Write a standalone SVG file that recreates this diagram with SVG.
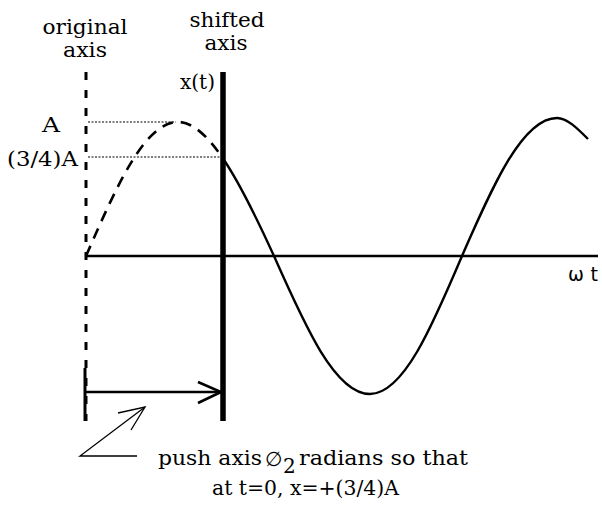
<svg xmlns="http://www.w3.org/2000/svg" width="602" height="518" viewBox="0 0 602 518">
<style>
  .t { font-family: "DejaVu Serif", "Liberation Serif", serif; font-size: 20px; fill: #000; }
  .s { font-family: "DejaVu Sans", "Liberation Sans", sans-serif; font-size: 19px; fill: #000; }
  .ln { stroke: #000; fill: none; stroke-linecap: butt; }
</style>
<rect width="602" height="518" fill="#fff"/>
<g id="axes">
  <line id="original-axis" class="ln" x1="86" y1="72" x2="86" y2="421" stroke-width="3" stroke-dasharray="8 10"/>
  <line id="shifted-axis" class="ln" x1="223" y1="72" x2="223" y2="421" stroke-width="5.5"/>
  <line id="time-axis" class="ln" x1="86" y1="256" x2="598" y2="256" stroke-width="2.6"/>
  <line class="ln" x1="88" y1="122" x2="176" y2="122" stroke-width="1.2" stroke-dasharray="2 1.5"/>
  <line class="ln" x1="88" y1="157" x2="222" y2="157" stroke-width="1.2" stroke-dasharray="2 1.5"/>
</g>
<g id="curve">
  <path class="ln" stroke-width="2.6" stroke-dasharray="11 8" d="M86,256 C116,187.4 144.7,122 178,122 C192.7,122 207.3,135.9 222,157"/>
  <path class="ln" stroke-width="2.4" stroke-linejoin="round" d="M222,157 C239.3,181.9 256.7,218.1 274,256 C305.3,326.7 335.3,394 370,394 C403.3,394 432,326.7 462,256 C493,185.3 522.6,118 557,118 C567,118 577,128 588,139"/>
</g>
<g id="connectors">
  <line class="ln" x1="85" y1="368" x2="85" y2="421" stroke-width="3"/>
  <line class="ln" x1="86" y1="392" x2="221" y2="392" stroke-width="2.6"/>
  <polyline class="ln" points="198,382 221,392 198,403" stroke-width="2.6"/>
  <polyline class="ln" points="137,456 80,456 145,407" stroke-width="1.3"/>
  <polyline class="ln" points="118,413 145,407 131,430" stroke-width="1.3"/>
</g>
<g id="labels">
  <text class="t" x="85" y="34" text-anchor="middle" textLength="85" lengthAdjust="spacingAndGlyphs">original</text>
  <text class="t" x="85" y="57" text-anchor="middle" textLength="44" lengthAdjust="spacingAndGlyphs">axis</text>
  <text class="t" x="227" y="27" text-anchor="middle" textLength="75" lengthAdjust="spacingAndGlyphs">shifted</text>
  <text class="t" x="226" y="50" text-anchor="middle" textLength="43" lengthAdjust="spacingAndGlyphs">axis</text>
  <text class="t" x="180" y="89" textLength="35" lengthAdjust="spacingAndGlyphs">x(t)</text>
  <text class="t" x="42" y="132" textLength="18" lengthAdjust="spacingAndGlyphs">A</text>
  <text class="t" x="7" y="166" textLength="71" lengthAdjust="spacingAndGlyphs">(3/4)A</text>
  <text class="s" x="568" y="281" textLength="30" lengthAdjust="spacing">ωt</text>
  <text class="t" x="158" y="465" textLength="104" lengthAdjust="spacingAndGlyphs">push axis</text>
  <text class="t" x="265" y="466" font-size="23">∅</text>
  <text class="t" x="283" y="473" font-size="15">2</text>
  <text class="t" x="299" y="465" textLength="169" lengthAdjust="spacingAndGlyphs">radians so that</text>
  <text class="t" x="212" y="495" textLength="187" lengthAdjust="spacingAndGlyphs">at t=0, x=+(3/4)A</text>
</g>
</svg>
